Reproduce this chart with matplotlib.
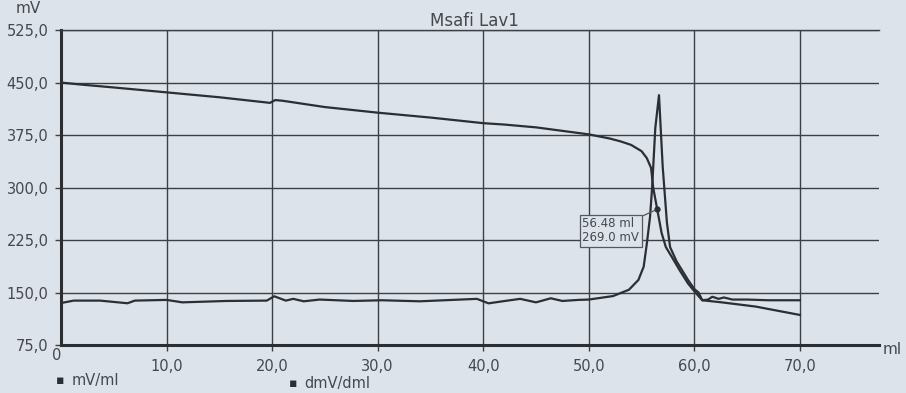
import matplotlib.pyplot as plt

# titration curve (ml of titrant)
ml_mv = [0, 2, 5, 10, 15, 19.8, 20.3, 21, 25, 30, 35, 40, 42, 45, 48, 50, 52,
         53, 54, 55, 55.5, 55.9, 56.1, 56.48, 56.9, 57.3, 57.9, 58.6, 59.4,
         60.1, 60.75, 62.6, 65.8, 70]
mv = [450, 447, 443, 436, 429, 421, 425, 424, 415, 407, 400, 392, 390, 386,
      380, 376, 370, 366, 361, 352, 342, 328, 300, 269, 235, 215, 200, 182,
      163, 150, 139, 136, 130, 118]

# first derivative
ml_dmv = [0, 1.2, 3.7, 6.3, 7, 10, 11.5, 15.7, 19.5, 20.2, 21.3, 22, 23, 24.5,
          27.7, 30.4, 34, 39.4, 40.5, 42.3, 43.5, 45, 46.4, 47.5, 49, 50, 52.3,
          53.8, 54.7, 55.2, 55.5, 55.8, 56.0, 56.3, 56.65, 57.0, 57.4, 57.7,
          58.3, 59.4, 60.0, 60.4, 60.75, 61.3, 61.7, 62.3, 62.8, 63.6, 65, 67, 70]
dmv = [135, 138.5, 138.5, 134.7, 138.5, 139.5, 136, 138, 138.5, 144.7, 138.5,
       141, 137.5, 140, 138, 139, 137.5, 141, 134.6, 138.5, 141, 136, 141.8,
       138, 139.5, 140, 145, 154, 168, 187, 220, 258, 300, 385, 432, 330, 250,
       215, 195, 168, 155, 150, 139, 140, 144, 141, 143, 140, 140, 139, 139]

eq_ml = 56.48
eq_mv = 269.0

x_ticks = [10, 20, 30, 40, 50, 60, 70]
x_labels = ['10,0', '20,0', '30,0', '40,0', '50,0', '60,0', '70,0']
y_ticks = [75, 150, 225, 300, 375, 450, 525]
y_labels = ['75,0', '150,0', '225,0', '300,0', '375,0', '450,0', '525,0']

BG = '#dde3ea'
INK = '#2b2e33'
TXT = '#45484d'

fig = plt.figure(figsize=(9.06, 3.93), dpi=100, facecolor=BG)
ax = fig.add_axes([0.0673, 0.122, 0.903, 0.8015])
ax.set_facecolor(BG)

ax.plot(ml_mv, mv, color=INK, lw=1.6, solid_joinstyle='round')
ax.plot(ml_dmv, dmv, color=INK, lw=1.6, solid_joinstyle='round')

ax.set_xlim(0, 77.5)
ax.set_ylim(75, 525)
ax.set_xticks(x_ticks)
ax.set_xticklabels(x_labels)
ax.set_yticks(y_ticks)
ax.set_yticklabels(y_labels)
ax.tick_params(axis='both', colors='#3c4046', labelcolor=TXT, labelsize=10.5,
               length=4, width=1)
ax.tick_params(axis='x', pad=6)
ax.tick_params(axis='y', pad=5)
ax.grid(True, color='#3c4046', lw=1.0)
ax.set_axisbelow(True)

ax.spines['right'].set_visible(False)
ax.spines['top'].set_linewidth(1.0)
ax.spines['top'].set_color('#3c4046')
ax.spines['left'].set_linewidth(2.2)
ax.spines['left'].set_color(INK)
ax.spines['bottom'].set_linewidth(2.2)
ax.spines['bottom'].set_color(INK)

ax.set_title('Msafi Lav1', fontsize=12, color=TXT, pad=2, x=0.505)

# equivalence point marker and label
ax.plot([eq_ml], [eq_mv], 'o', color=INK, ms=3.5)
ax.annotate(f'{eq_ml:.2f} ml\n{eq_mv:.1f} mV', xy=(eq_ml, eq_mv),
            xytext=(49.4, 238), ha='left', va='center', fontsize=8.5,
            color=TXT, linespacing=1.1,
            bbox=dict(boxstyle='square,pad=0.25', fc=BG, ec='#55585d', lw=0.9),
            arrowprops=dict(arrowstyle='-', color='#55585d', lw=0.9,
                            relpos=(1, 1), shrinkA=0, shrinkB=2))

# axis units and the stray origin label
ax.text(-0.025, 1.045, 'mV', transform=ax.transAxes, ha='right', va='bottom',
        fontsize=11, color=TXT)
ax.text(1.004, -0.015, 'ml', transform=ax.transAxes, ha='left', va='center',
        fontsize=11, color=TXT)
ax.annotate('0', xy=(0, 75), xytext=(-3, -2), textcoords='offset points',
            ha='center', va='top', fontsize=10.5, color=TXT)

# series keys under the plot
fig.text(0.066, 0.033, '\u25aa', ha='center', va='center', fontsize=9, color=INK)
fig.text(0.079, 0.032, 'mV/ml', ha='left', va='center', fontsize=10.5, color=TXT)
fig.text(0.323, 0.024, '\u25aa', ha='center', va='center', fontsize=9, color=INK)
fig.text(0.336, 0.023, 'dmV/dml', ha='left', va='center', fontsize=10.5, color=TXT)

fig.savefig('out.png', dpi=100, facecolor=BG)
